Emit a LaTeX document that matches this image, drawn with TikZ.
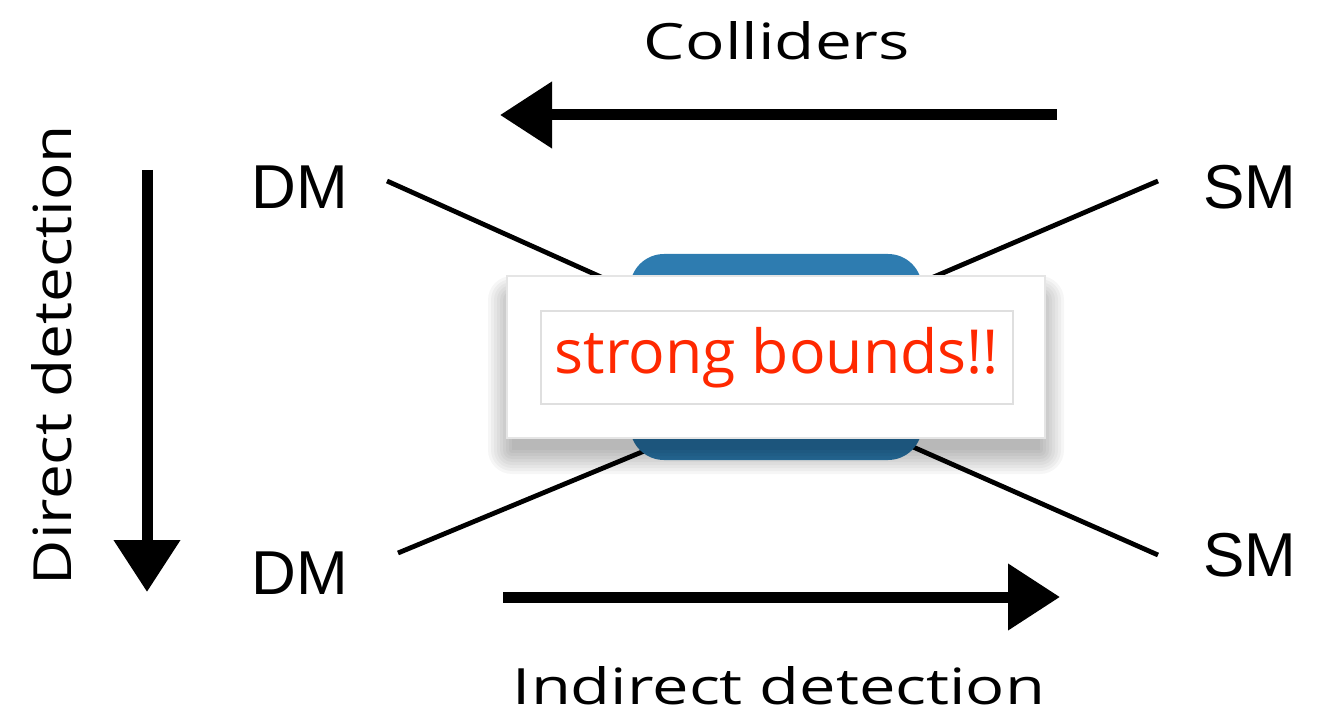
\documentclass[tikz,border=0pt]{standalone}
\usepackage{fontspec}
\setmainfont{Liberation Sans}
\newfontfamily\hand{Open Sans}
\usetikzlibrary{arrows.meta}
\definecolor{blobblue}{RGB}{46,124,176}
\definecolor{boundred}{RGB}{255,40,0}
\tikzset{
  sketcharrow/.style={line width=5.5pt, draw=black, -{Triangle[length=26pt,width=32pt]}},
  particle/.style={font=\fontsize{31}{31}\selectfont, inner sep=0pt, anchor=center},
  leg/.style={line width=2.4pt, draw=black},
  handlabel/.style={inner sep=0pt, anchor=center, text=black},
}
\begin{document}
\begin{tikzpicture}[x=0.5pt,y=-0.5pt]
\useasboundingbox (0,0) rectangle (1321,716);

% arrows
\coordinate (ta) at (1057,115);
\coordinate (tb) at (500,115);
\draw[sketcharrow] (ta) -- (tb);
\coordinate (la) at (147,170);
\coordinate (lb) at (147,592);
\draw[sketcharrow] (la) -- (lb);
\coordinate (ba) at (503,597);
\coordinate (bb) at (1060,597);
\draw[sketcharrow] (ba) -- (bb);

% labels
\node[handlabel] (coll) at (777,41) {\resizebox{133pt}{19pt}{\hand Colliders}};
\node[handlabel, rotate=90] (direct) at (52,355) {\resizebox{230pt}{20pt}{\hand Direct detection}};
\node[handlabel] (indirect) at (779,686) {\resizebox{266pt}{19pt}{\hand Indirect detection}};

% particles
\node[particle] (dm1) at (300,187) {DM};
\node[particle] (dm2) at (300,573) {DM};
\node[particle] (sm1) at (1250,187) {SM};
\node[particle] (sm2) at (1250,555) {SM};

% legs
\coordinate (e1) at (387,181);
\coordinate (e2) at (1158,181);
\coordinate (e3) at (398,553);
\coordinate (e4) at (1158,555);
\coordinate (c1) at (777,356);
\coordinate (c2) at (777,344);
\coordinate (c3) at (777,396);
\coordinate (c4) at (777,387);
\draw[leg] (e1) -- (c1);
\draw[leg] (e2) -- (c2);
\draw[leg] (e3) -- (c3);
\draw[leg] (e4) -- (c4);

% blob
\fill[blobblue, rounded corners=17pt] (630,254) rectangle (922,460);

% shadow
\foreach \r in {0,3,...,24}
  \fill[black, opacity=0.035, rounded corners=0.5*\r pt] (512-\r,300-\r) rectangle (1040+\r,450+\r);

% white card
\node[draw=gray!20, fill=white, line width=1pt, minimum width=269pt, minimum height=81pt, inner sep=0pt] (card) at (776,357) {};
\node[draw=gray!25, line width=0.8pt, minimum width=236pt, minimum height=46.5pt, inner sep=0pt, text=boundred] (bounds) at (777,357.5) {\resizebox{222pt}{!}{\hand strong bounds!!}};
\end{tikzpicture}
\end{document}
